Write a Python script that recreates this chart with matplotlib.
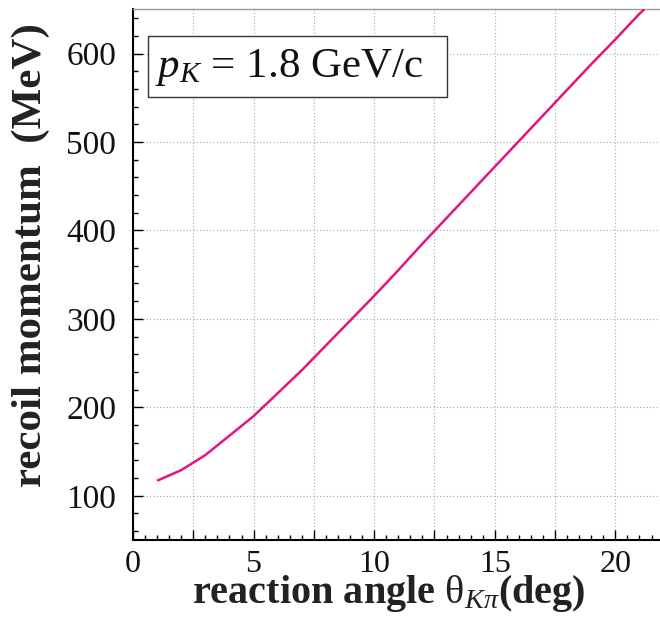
import matplotlib
matplotlib.use("Agg")
import matplotlib.pyplot as plt
from matplotlib.ticker import MultipleLocator, FuncFormatter
from matplotlib.patches import Rectangle

# ---- data ----
angle_deg = [1, 2, 3, 4, 5, 6, 7, 8, 9, 10, 11, 12, 13, 14, 15, 16, 17, 18, 19, 20, 21, 21.2]
recoil_mev = [117, 129, 146, 168, 190, 216, 242, 270, 298, 326, 355, 385, 414, 443, 472,
              501, 530, 559, 588, 616, 645, 650]
xlim = (0, 21.85)
ylim = (50, 650)
x_label_ticks = [0, 5, 10, 15, 20]
y_ticks = [100, 200, 300, 400, 500, 600]

plt.rcParams['font.family'] = ['Liberation Serif', 'DejaVu Serif']
plt.rcParams['mathtext.fontset'] = 'custom'
plt.rcParams['mathtext.rm'] = 'Liberation Serif'
plt.rcParams['mathtext.it'] = 'Liberation Serif:italic'
plt.rcParams['mathtext.bf'] = 'Liberation Serif:bold'

W, H = 660, 624
fig = plt.figure(figsize=(W / 100, H / 100), dpi=100)
L, R, T, B = 133, 660, 9.3, 540
ax = fig.add_axes([L / W, 1 - B / H, (R - L) / W, (B - T) / H])

ax.plot(angle_deg, recoil_mev, color='#E4157F', lw=1.8, solid_capstyle='butt', zorder=3)

ax.set_xlim(*xlim)
ax.set_ylim(*ylim)

ax.xaxis.set_major_locator(MultipleLocator(2.5))
ax.xaxis.set_minor_locator(MultipleLocator(0.5))
ax.xaxis.set_major_formatter(FuncFormatter(
    lambda v, p: f"{int(round(v))}" if any(abs(v - t) < 1e-6 for t in x_label_ticks) else ""))
ax.set_yticks(y_ticks)
ax.yaxis.set_minor_locator(MultipleLocator(20))

ax.grid(True, which='major', color='#a8a8a8', linestyle=(0, (1, 2)), linewidth=0.8)

ax.tick_params(which='major', direction='in', length=7.5, width=1.0, color='black',
               labelsize=24, labelcolor='#111111')
ax.tick_params(which='minor', direction='in', length=3.3, width=1.0, color='black')
ax.tick_params(axis='y', which='major', pad=12)
ax.tick_params(axis='x', which='major', labelsize=23, pad=7)
ax.tick_params(top=False, right=False, which='both')

for s in ['left', 'bottom']:
    ax.spines[s].set_color('black')
    ax.spines[s].set_linewidth(1.5)
ax.spines['top'].set_color('#999999')
ax.spines['top'].set_linewidth(1.0)
ax.spines['right'].set_visible(False)

# labels
fig.text(389 / W, 1 - 603 / H, r'reaction angle $\mathrm{\theta}_{K\pi}$(deg)',
         ha='center', va='baseline', fontsize=29, fontweight='bold', color='#222222')
fig.text(31 / W, 1 - 255 / H, 'recoil momentum  (MeV)', rotation=90,
         ha='center', va='center', fontsize=31, fontweight='bold', color='#222222')

# annotation box
bx0, by0, bx1, by1 = 148, 35.5, 446.5, 97
fig.patches.append(Rectangle((bx0 / W, 1 - by1 / H), (bx1 - bx0) / W, (by1 - by0) / H,
                             transform=fig.transFigure, facecolor='white',
                             edgecolor='#333333', linewidth=1.0, zorder=5))
fig.text(155 / W, 1 - 77.3 / H, r'$p_K$ = 1.8 GeV/c', ha='left', va='baseline',
         fontsize=31, color='#111111', zorder=6)

fig.savefig('out.png', dpi=100)
